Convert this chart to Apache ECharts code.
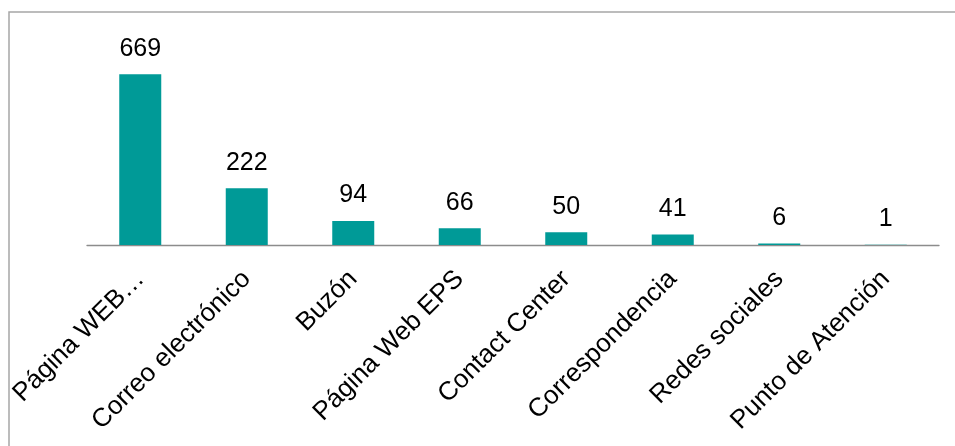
<!DOCTYPE html>
<html>
<head>
<meta charset="utf-8">
<style>
  html, body { margin: 0; padding: 0; background: #fff; }
  #chart { width: 955px; height: 446px; }
</style>
<script src="https://cdn.jsdelivr.net/npm/echarts@6/dist/echarts.min.js"></script>
</head>
<body>
<div id="chart"></div>
<script>
// Requests by reception channel
const categories = [
  'Página WEB…',
  'Correo electrónico',
  'Buzón',
  'Página Web EPS',
  'Contact Center',
  'Correspondencia',
  'Redes sociales',
  'Punto de Atención'
];
const counts = [669, 222, 94, 66, 50, 41, 6, 1];

const chart = echarts.init(document.getElementById('chart'), null, { renderer: 'canvas' });

const FONT = 'Arial, "Liberation Sans", sans-serif';

chart.setOption({
  animation: false,
  backgroundColor: '#ffffff',
  graphic: [{
    type: 'rect',
    shape: { x: 9, y: 12, width: 1000, height: 500 },
    style: { fill: 'none', stroke: '#a6a6a6', lineWidth: 1.5 },
    silent: true,
    z: -1
  }],
  grid: {
    left: 87,
    right: 16,
    top: 66.4,
    bottom: 201,
    containLabel: false
  },
  xAxis: {
    type: 'category',
    data: categories,
    axisLine: { show: true, lineStyle: { color: '#8c8c8c', width: 1.3 } },
    axisTick: { show: false },
    axisLabel: {
      interval: 0,
      rotate: 45,
      margin: 30,
      color: '#000',
      fontFamily: FONT,
      fontSize: 26
    }
  },
  yAxis: {
    type: 'value',
    min: 0,
    max: 700,
    show: false,
    splitLine: { show: false }
  },
  series: [{
    type: 'bar',
    data: counts,
    barWidth: 42,
    itemStyle: { color: '#009a97' },
    label: {
      show: true,
      position: 'top',
      distance: 13,
      color: '#000',
      fontFamily: FONT,
      fontSize: 25
    }
  }]
});
</script>
</body>
</html>
